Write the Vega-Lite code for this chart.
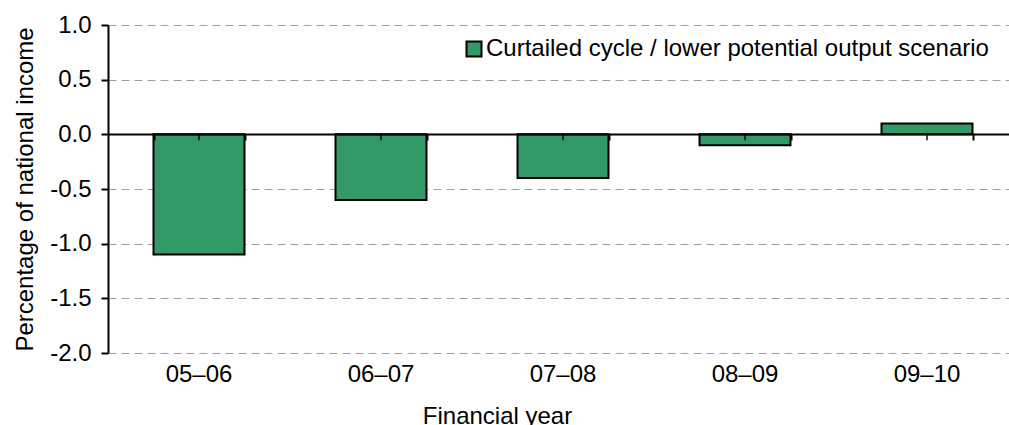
{
  "$schema": "https://vega.github.io/schema/vega-lite/v6.json",
  "width": 910,
  "height": 328,
  "autosize": {"type": "none"},
  "padding": {"left": 108, "top": 25, "right": 0, "bottom": 72},
  "background": "white",
  "config": {
    "font": "Liberation Sans",
    "view": {"stroke": null},
    "axis": {
      "labelFont": "Liberation Sans",
      "titleFont": "Liberation Sans",
      "labelColor": "black",
      "titleColor": "black",
      "labelFontSize": 24,
      "titleFontSize": 24,
      "titleFontWeight": "normal"
    }
  },
  "data": {
    "values": [
      {"year": "05–06", "value": -1.1, "series": "Curtailed cycle / lower potential output scenario"},
      {"year": "06–07", "value": -0.6, "series": "Curtailed cycle / lower potential output scenario"},
      {"year": "07–08", "value": -0.4, "series": "Curtailed cycle / lower potential output scenario"},
      {"year": "08–09", "value": -0.1, "series": "Curtailed cycle / lower potential output scenario"},
      {"year": "09–10", "value": 0.1, "series": "Curtailed cycle / lower potential output scenario"}
    ]
  },
  "resolve": {"axis": {"x": "independent"}},
  "layer": [
    {
      "mark": {"type": "bar", "stroke": "black", "strokeWidth": 2},
      "encoding": {
        "x": {
          "field": "year", "type": "nominal", "sort": null,
          "scale": {"paddingInner": 0.5, "paddingOuter": 0.25},
          "axis": {
            "orient": "bottom", "title": "Financial year", "domain": false, "ticks": false,
            "labelAngle": 0, "labelPadding": 9, "titlePadding": 18, "titleX": 389, "grid": false
          }
        },
        "y": {
          "field": "value", "type": "quantitative",
          "scale": {"domain": [-2, 1], "nice": false},
          "axis": {
            "title": "Percentage of national income",
            "values": [-2, -1.5, -1, -0.5, 0, 0.5, 1],
            "labelExpr": "replace(format(datum.value, '.1f'), '−', '-')",
            "domainColor": "black", "domainWidth": 2,
            "tickColor": "black", "tickWidth": 2, "tickSize": 7,
            "labelPadding": 10, "titlePadding": 12,
            "grid": true, "gridColor": "#a0a0a0", "gridDash": [8, 5], "gridWidth": 1
          }
        },
        "fill": {
          "field": "series", "type": "nominal",
          "scale": {"range": ["#339966"]},
          "legend": {
            "title": null, "orient": "none", "legendX": 354, "legendY": 12,
            "symbolType": "square", "symbolSize": 225,
            "symbolStrokeColor": "black", "symbolStrokeWidth": 2,
            "labelFontSize": 24, "labelFont": "Liberation Sans", "labelColor": "black",
            "labelOffset": 0, "padding": 0, "labelLimit": 800
          }
        }
      }
    },
    {
      "mark": {"type": "tick", "orient": "vertical", "size": 6, "thickness": 2, "yOffset": 3, "color": "black"},
      "encoding": {
        "x": {
          "field": "year", "type": "nominal", "sort": null,
          "axis": {
            "orient": "top", "offset": -109, "title": null, "labels": false,
            "domainColor": "black", "domainWidth": 2,
            "tickColor": "black", "tickWidth": 2, "tickSize": -6, "tickBand": "extent",
            "grid": false, "zindex": 1
          }
        },
        "y": {"datum": 0, "type": "quantitative"}
      }
    }
  ]
}
